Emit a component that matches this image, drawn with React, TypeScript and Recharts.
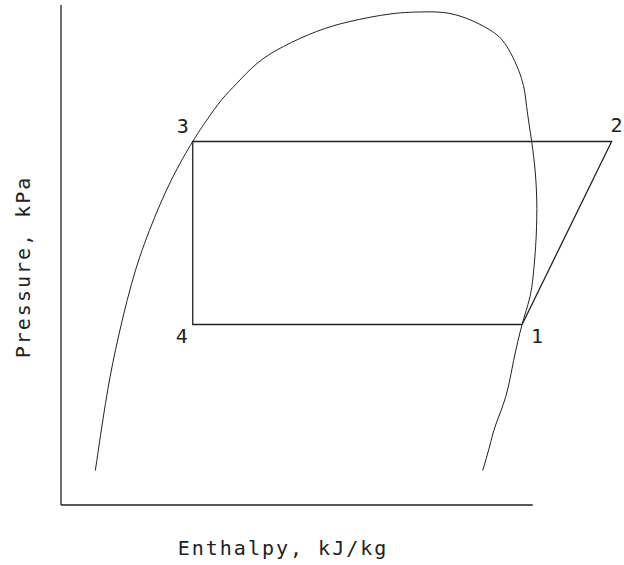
import React from "react";
import {
  ComposedChart,
  Line,
  XAxis,
  YAxis,
  ReferenceLine,
  LabelList,
} from "recharts";

// saturation dome (plot units, 0-100 on both axes)
const domeH = [
  6.1, 7.9, 9.7, 12.5, 15.7, 19.6, 23.4, 25.9, 28.5, 31.2, 34.8, 39.5, 45.4,
  51.3, 58.4, 63.5, 67.9, 72.1, 76.2, 79.2, 81.8, 82.7, 83.6, 84.2, 84.5, 84.4,
  83.9, 83.2, 81.9, 80.4, 79.0, 77.2, 76.1, 74.9,
];
const domeP = [
  6.9, 20.3, 31.1, 44.1, 54.9, 65.0, 72.7, 77.0, 81.0, 84.3, 88.3, 91.7, 94.7,
  96.7, 98.2, 98.6, 98.5, 97.3, 95.0, 91.7, 85.3, 79.7, 72.7, 67.0, 61.0, 53.7,
  46.2, 41.2, 36.1, 28.9, 21.7, 16.0, 11.6, 6.9,
];

// cycle state points 1 -> 2 -> 3 -> 4
const stateNames = ["1", "2", "3", "4"];
const stateH = [81.9, 97.8, 23.4, 23.4];
const stateP = [36.1, 72.7, 72.7, 36.1];

const axisEndH = 83.8;

const dome = domeH.map((h, i) => ({ h, p: domeP[i] }));
const cycle = stateNames.map((name, i) => ({ h: stateH[i], p: stateP[i], name }));
cycle.push({ h: stateH[0], p: stateP[0], name: "" });

const labelOffset: Record<string, [number, number]> = {
  "1": [15, 18],
  "2": [5, -10],
  "3": [-10, -9],
  "4": [-11, 18],
};

const font = "'DejaVu Sans Mono', monospace";
const ink = "#222";

const StateLabel = (props: any) => {
  const { x, y, value } = props;
  if (!value) return null;
  const [dx, dy] = labelOffset[value];
  return (
    <text x={x + dx} y={y + dy} textAnchor="middle" fontFamily={font} fontSize={20} fill={ink}>
      {value}
    </text>
  );
};

export default function App() {
  return (
    <div style={{ position: "absolute", left: 0, top: 0, background: "#fff" }}>
      <ComposedChart
        width={624}
        height={565}
        margin={{ top: 5, right: 0, left: 0, bottom: 0 }}
      >
        <XAxis
          type="number"
          dataKey="h"
          domain={[0, 100]}
          height={60}
          axisLine={false}
          tick={false}
          tickLine={false}
          label={{
            content: (p: any) => (
              <text
                x={p.viewBox.x + 222}
                y={p.viewBox.y + 50}
                textAnchor="middle"
                fontFamily={font}
                fontSize={20}
                letterSpacing={2}
                fill={ink}
              >
                Enthalpy, kJ/kg
              </text>
            ),
          }}
        />
        <YAxis
          type="number"
          dataKey="p"
          domain={[0, 100]}
          width={61}
          axisLine={false}
          tick={false}
          tickLine={false}
          label={{
            content: () => (
              <text
                x={30}
                y={267}
                transform="rotate(-90 30 267)"
                textAnchor="middle"
                fontFamily={font}
                fontSize={20}
                letterSpacing={2}
                fill={ink}
              >
                Pressure, kPa
              </text>
            ),
          }}
        />
        <ReferenceLine
          segment={[{ x: 0, y: 0 }, { x: 0, y: 100 }]}
          stroke={ink}
          strokeWidth={1.3}
          ifOverflow="visible"
        />
        <ReferenceLine
          segment={[{ x: 0, y: 0 }, { x: axisEndH, y: 0 }]}
          stroke={ink}
          strokeWidth={1.3}
          ifOverflow="visible"
        />
        <Line
          data={dome}
          dataKey="p"
          type="natural"
          stroke={ink}
          strokeWidth={1}
          dot={false}
          activeDot={false}
          isAnimationActive={false}
        />
        <Line
          data={cycle}
          dataKey="p"
          type="linear"
          stroke={ink}
          strokeWidth={1.3}
          dot={false}
          activeDot={false}
          isAnimationActive={false}
        >
          <LabelList dataKey="name" content={StateLabel} />
        </Line>
      </ComposedChart>
    </div>
  );
}
